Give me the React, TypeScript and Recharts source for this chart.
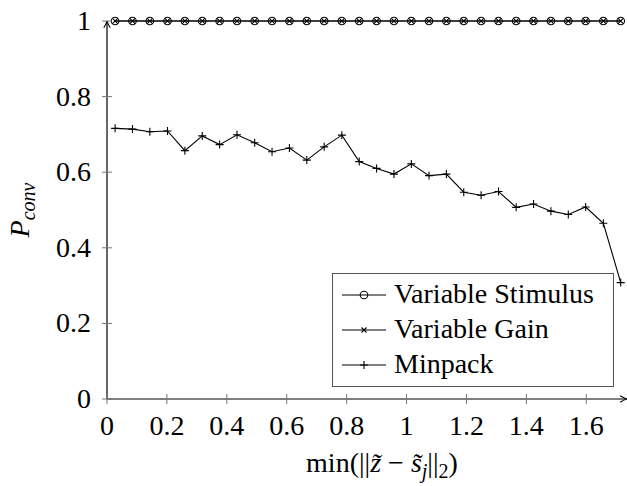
import { LineChart, Line, XAxis, YAxis, Legend } from "recharts";

// ─── Data ──────────────────────────────────────────────────────────

const xValues = [
  0.027, 0.085, 0.143, 0.202, 0.26, 0.318, 0.376, 0.434, 0.493, 0.551,
  0.609, 0.667, 0.725, 0.784, 0.842, 0.9, 0.958, 1.016, 1.075, 1.133,
  1.191, 1.249, 1.307, 1.366, 1.424, 1.482, 1.54, 1.598, 1.657, 1.715,
];

const variableStimulus = [
  1, 1, 1, 1, 1, 1, 1, 1, 1, 1, 1, 1, 1, 1, 1,
  1, 1, 1, 1, 1, 1, 1, 1, 1, 1, 1, 1, 1, 1, 1,
];

const variableGain = [
  1, 1, 1, 1, 1, 1, 1, 1, 1, 1, 1, 1, 1, 1, 1,
  1, 1, 1, 1, 1, 1, 1, 1, 1, 1, 1, 1, 1, 1, 1,
];

const minpack = [
  0.716, 0.714, 0.707, 0.709, 0.657, 0.696, 0.673, 0.699, 0.678, 0.654,
  0.664, 0.632, 0.667, 0.698, 0.628, 0.61, 0.595, 0.622, 0.591, 0.595,
  0.547, 0.539, 0.549, 0.507, 0.516, 0.497, 0.488, 0.508, 0.465, 0.308,
];

const xTicks = [0, 0.2, 0.4, 0.6, 0.8, 1, 1.2, 1.4, 1.6];
const yTicks = [0, 0.2, 0.4, 0.6, 0.8, 1];

const seriesNames = ["Variable Stimulus", "Variable Gain", "Minpack"];

const data = xValues.map((x, i) => ({
  x,
  stim: variableStimulus[i],
  gain: variableGain[i],
  minpack: minpack[i],
}));

// ─── Style ─────────────────────────────────────────────────────────

const FONT = "Liberation Serif";
const FS = 28;
const LW = 1.1;

// force the serif face on every svg text in the chart
const css = `
.latexChart, .latexChart svg, .latexChart text, .latexChart tspan {
  font-family: "Liberation Serif", serif !important;
  font-weight: normal;
}
`;

// ─── Markers ───────────────────────────────────────────────────────

function CircleMark({ cx, cy }: { cx: number; cy: number }) {
  return <circle cx={cx} cy={cy} r={3.8} fill="none" stroke="#000" strokeWidth={LW} />;
}

function CrossMark({ cx, cy, s = 2.8 }: { cx: number; cy: number; s?: number }) {
  return (
    <path
      d={`M${cx - s},${cy - s}L${cx + s},${cy + s}M${cx - s},${cy + s}L${cx + s},${cy - s}`}
      stroke="#000"
      strokeWidth={LW}
      fill="none"
    />
  );
}

function PlusMark({ cx, cy, s = 4 }: { cx: number; cy: number; s?: number }) {
  return (
    <path
      d={`M${cx - s},${cy}L${cx + s},${cy}M${cx},${cy - s}L${cx},${cy + s}`}
      stroke="#000"
      strokeWidth={LW}
      fill="none"
    />
  );
}

// ─── Ticks & labels ────────────────────────────────────────────────

function XTick(props: any) {
  const { x, y, payload } = props;
  return (
    <g>
      <line x1={x} x2={x} y1={y - 5} y2={y + 5} stroke="#777" strokeWidth={1} />
      <text x={x} y={y + 36} textAnchor="middle" fontFamily={FONT} fontSize={FS} fill="#000">
        {String(payload.value)}
      </text>
    </g>
  );
}

function YTick(props: any) {
  const { x, y, payload } = props;
  return (
    <g>
      <line x1={x - 5} x2={x + 5} y1={y} y2={y} stroke="#777" strokeWidth={1} />
      <text x={x - 16} y={y + 9} textAnchor="end" fontFamily={FONT} fontSize={FS} fill="#000">
        {String(payload.value)}
      </text>
    </g>
  );
}

function XTitle(props: any) {
  const vb = props.viewBox || { x: 107, y: 399, width: 520 };
  const cx = vb.x + vb.width / 2 + 15;
  return (
    <text x={cx} y={vb.y + 73} textAnchor="middle" fontFamily={FONT} fontSize={FS} fill="#000">
      <tspan>min(||</tspan>
      <tspan fontStyle="italic">{"z\u0303"}</tspan>
      <tspan> − </tspan>
      <tspan fontStyle="italic">{"s\u0303"}</tspan>
      <tspan fontStyle="italic" fontSize={20} dy={6}>j</tspan>
      <tspan dy={-6}>||</tspan>
      <tspan fontSize={20} dy={6}>2</tspan>
      <tspan dy={-6}>)</tspan>
    </text>
  );
}

function YTitle(props: any) {
  const vb = props.viewBox || { x: 0, y: 21, height: 378 };
  const cy = vb.y + vb.height / 2;
  return (
    <text
      transform={`translate(29,${cy}) rotate(-90)`}
      x={0}
      y={0}
      textAnchor="middle"
      fontFamily={FONT}
      fontSize={FS}
      fill="#000"
    >
      <tspan fontStyle="italic">P</tspan>
      <tspan fontStyle="italic" fontSize={20} dy={6}>conv</tspan>
    </text>
  );
}

// ─── Legend ────────────────────────────────────────────────────────

function LegendBox() {
  const rows = [22, 57, 92];
  return (
    <svg width={282} height={114} style={{ display: "block" }}>
      <rect x={0.5} y={0.5} width={281} height={113} fill="#fff" stroke="#555" strokeWidth={1} />
      {seriesNames.map((name, i) => (
        <g key={name}>
          <line x1={10} x2={54} y1={rows[i]} y2={rows[i]} stroke="#000" strokeWidth={LW} />
          {i === 0 && <CircleMark cx={32} cy={rows[i]} />}
          {i === 1 && <CrossMark cx={32} cy={rows[i]} s={2.5} />}
          {i === 2 && <PlusMark cx={32} cy={rows[i]} />}
          <text x={62} y={rows[i] + 8} fontFamily={FONT} fontSize={FS} fill="#000">
            {name}
          </text>
        </g>
      ))}
    </svg>
  );
}

// ─── Component ─────────────────────────────────────────────────────

export default function App() {
  return (
    <div
      className="latexChart"
      style={{ position: "absolute", left: 0, top: 0, width: 627, height: 486, background: "#fff" }}
    >
      <style>{css}</style>
      {/* arrow heads for the axis lines */}
      <svg width={0} height={0} style={{ position: "absolute" }}>
        <defs>
          <marker
            id="axisArrow"
            viewBox="0 0 10 10"
            refX={9.5}
            refY={5}
            markerWidth={8}
            markerHeight={8}
            markerUnits="userSpaceOnUse"
            orient="auto-start-reverse"
          >
            <path d="M1,1 Q6,4.2 9.5,5 Q6,5.8 1,9" fill="none" stroke="#000" strokeWidth={1.4} />
          </marker>
        </defs>
      </svg>
      <LineChart
        width={627}
        height={486}
        data={data}
        margin={{ top: 21, right: 0, left: 0, bottom: 0 }}
      >
        <XAxis
          type="number"
          dataKey="x"
          domain={[0, 1.736]}
          ticks={xTicks}
          height={87}
          tickSize={0}
          tickMargin={0}
          tickLine={false}
          tick={<XTick />}
          axisLine={{ stroke: "#000", strokeWidth: 1.2, markerEnd: "url(#axisArrow)" }}
          label={<XTitle />}
        />
        <YAxis
          type="number"
          domain={[0, 1]}
          ticks={yTicks}
          width={107}
          tickSize={0}
          tickMargin={0}
          tickLine={false}
          tick={<YTick />}
          axisLine={{ stroke: "#000", strokeWidth: 1.2, markerStart: "url(#axisArrow)" }}
          label={<YTitle />}
        />
        <Legend
          layout="vertical"
          align="center"
          verticalAlign="middle"
          wrapperStyle={{ position: "absolute", left: 332, top: 273, width: 282, height: 114, margin: 0 }}
          content={() => <LegendBox />}
        />

        {/* Variable Stimulus — circles */}
        <Line
          dataKey="stim"
          name={seriesNames[0]}
          type="linear"
          stroke="#000"
          strokeWidth={LW}
          isAnimationActive={false}
          dot={(p: any) => <CircleMark key={`s${p.index}`} cx={p.cx} cy={p.cy} />}
          activeDot={false}
        />

        {/* Variable Gain — crosses */}
        <Line
          dataKey="gain"
          name={seriesNames[1]}
          type="linear"
          stroke="#000"
          strokeWidth={LW}
          isAnimationActive={false}
          dot={(p: any) => <CrossMark key={`g${p.index}`} cx={p.cx} cy={p.cy} />}
          activeDot={false}
        />

        {/* Minpack — plus marks */}
        <Line
          dataKey="minpack"
          name={seriesNames[2]}
          type="linear"
          stroke="#000"
          strokeWidth={LW}
          isAnimationActive={false}
          dot={(p: any) => <PlusMark key={`m${p.index}`} cx={p.cx} cy={p.cy} />}
          activeDot={false}
        />
      </LineChart>
    </div>
  );
}
